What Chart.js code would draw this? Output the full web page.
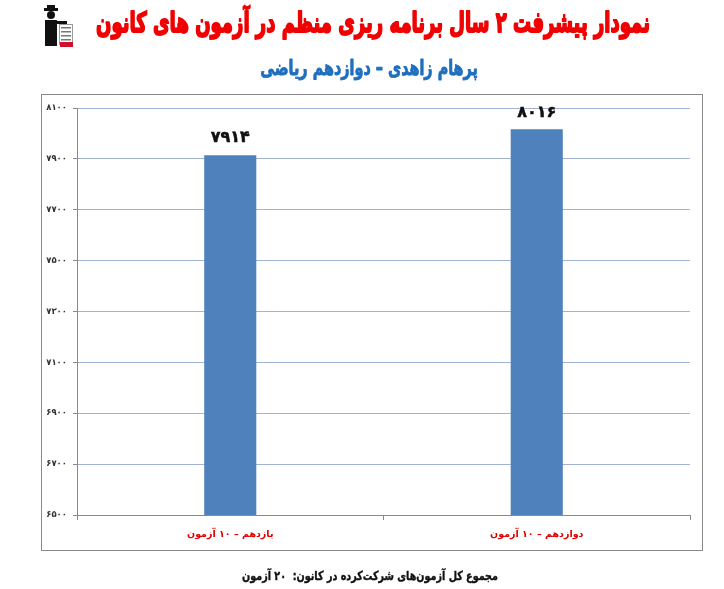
<!DOCTYPE html>
<html>
<head>
<meta charset="utf-8">
<script src="https://cdn.jsdelivr.net/npm/chart.js@4.4.1/dist/chart.umd.min.js"></script>
<style>
  html, body { margin: 0; padding: 0; background: #fff; }
  #wrap { width: 724px; height: 589px; }
</style>
</head>
<body>
<div id="wrap"><canvas id="chart" width="724" height="589"></canvas></div>
<script>
const categories = ['یازدهم – ۱۰ آزمون', 'دوازدهم – ۱۰ آزمون'];
const scores = [7914, 8016];
const yMin = 6500;
const yMax = 8100;
const yStep = 200;

const titleText = 'نمودار پیشرفت ۲ سال برنامه ریزی منظم در آزمون های کانون';
const subtitleText = 'پرهام زاهدی – دوازدهم ریاضی';
const footerText = 'مجموع کل آزمون‌های شرکت‌کرده در کانون:  ۲۰ آزمون';

const FONT = '"DejaVu Sans", sans-serif';

function toPersian(n) {
    return String(n).replace(/[0-9]/g, d => '۰۱۲۳۴۵۶۷۸۹'[d]);
}

// draw text scaled so it spans a given width, stretched vertically to look like the heavy original font
function fitText(ctx, text, cx, cy, width, color, stretch, weight) {
    ctx.save();
    ctx.font = 'bold 20px ' + FONT;
    const w = ctx.measureText(text).width;
    const size = 20 * width / w;
    ctx.font = 'bold ' + size.toFixed(2) + 'px ' + FONT;
    ctx.fillStyle = color;
    ctx.strokeStyle = color;
    ctx.lineWidth = weight;
    ctx.lineJoin = 'round';
    ctx.textAlign = 'center';
    ctx.textBaseline = 'middle';
    ctx.translate(cx, cy);
    ctx.scale(1, stretch);
    ctx.fillText(text, 0, 0);
    if (weight > 0) ctx.strokeText(text, 0, 0);
    ctx.restore();
}

const decorations = {
    id: 'decorations',
    beforeDraw(chart) {
        const ctx = chart.ctx;
        ctx.save();
        // outer frame
        ctx.strokeStyle = '#8a8a8a';
        ctx.lineWidth = 1;
        ctx.strokeRect(41.5, 94.5, 661, 456);

        // little logo
        ctx.fillStyle = '#111';
        ctx.fillRect(44, 8, 14, 3);
        ctx.fillRect(47, 5, 8, 4);
        ctx.beginPath();
        ctx.arc(51, 15, 4, 0, Math.PI * 2);
        ctx.fill();
        ctx.fillRect(45, 20, 12, 26);
        ctx.fillRect(55, 21, 12, 3);
        ctx.strokeStyle = '#999';
        ctx.strokeRect(59.5, 24.5, 13, 20);
        ctx.fillStyle = '#777';
        for (let i = 0; i < 4; i++) ctx.fillRect(61, 27 + i * 4, 10, 1.5);
        ctx.fillStyle = '#d0102a';
        ctx.fillRect(60, 42, 13, 5);
        ctx.restore();
    },
    afterDraw(chart) {
        const ctx = chart.ctx;
        ctx.save();
        ctx.direction = 'rtl';
        fitText(ctx, titleText, 373, 25, 554, '#f00000', 1.55, 1.2);
        fitText(ctx, subtitleText, 369, 70, 218, '#1f6fbf', 1.45, 0.6);
        fitText(ctx, footerText, 370, 577, 256, '#111', 1.3, 0.3);

        // value labels above bars
        const meta = chart.getDatasetMeta(0);
        ctx.font = 'bold 16px ' + FONT;
        ctx.fillStyle = '#111';
        ctx.strokeStyle = '#111';
        ctx.lineWidth = 0.5;
        ctx.textAlign = 'center';
        ctx.textBaseline = 'middle';
        meta.data.forEach((bar, i) => {
            ctx.fillText(toPersian(scores[i]), bar.x, bar.y - 17);
            ctx.strokeText(toPersian(scores[i]), bar.x, bar.y - 17);
        });
        ctx.restore();
    }
};

new Chart(document.getElementById('chart'), {
    type: 'bar',
    data: {
        labels: categories,
        datasets: [{
            data: scores,
            backgroundColor: '#4f81bd',
            borderWidth: 0,
            barPercentage: 0.17,
            categoryPercentage: 1
        }]
    },
    options: {
        responsive: false,
        animation: false,
        layout: { padding: { top: 108, right: 34, left: 0, bottom: 0 } },
        plugins: {
            legend: { display: false },
            tooltip: { enabled: false }
        },
        scales: {
            x: {
                afterFit(scale) { scale.height = 74; },
                grid: {
                    offset: true,
                    drawOnChartArea: false,
                    tickLength: 5,
                    color: '#8a8a8a'
                },
                border: { color: '#8a8a8a' },
                ticks: {
                    padding: 9,
                    color: '#e00000',
                    font: { family: FONT, size: 9.5, weight: 'bold' }
                }
            },
            y: {
                min: yMin,
                max: yMax,
                afterFit(scale) { scale.width = 77; },
                grid: {
                    color: '#a3b3d3',
                    tickLength: 4,
                    tickColor: '#8a8a8a'
                },
                border: { color: '#8a8a8a' },
                ticks: {
                    stepSize: yStep,
                    padding: 6,
                    color: '#333',
                    font: { family: FONT, size: 8.5, weight: 'bold' },
                    callback: v => toPersian(v)
                }
            }
        }
    },
    plugins: [decorations]
});
</script>
</body>
</html>
